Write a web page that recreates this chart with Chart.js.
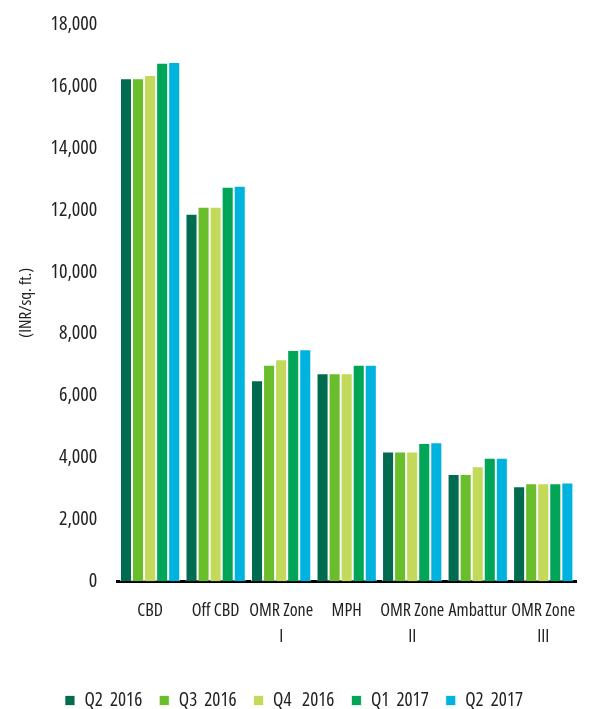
<!DOCTYPE html>
<html>
<head>
<meta charset="utf-8">
<script src="https://cdn.jsdelivr.net/npm/chart.js@4"></script>
<style>
  html, body { margin: 0; padding: 0; background: #fff; }
  #wrap { width: 589px; height: 709px; }
</style>
</head>
<body>
<div id="wrap"><canvas id="rentChart"></canvas></div>
<script>
// rental values by micro-market (INR/sq. ft.)
var zonas = ['CBD', 'Off CBD', ['OMR Zone', 'I'], 'MPH', ['OMR Zone', 'II'], 'Ambattur', ['OMR Zone', 'III']];
var periodos = ['Q2  2016', 'Q3  2016', 'Q4   2016', 'Q1  2017', 'Q2  2017'];
var q2_2016 = [16250, 11875, 6500, 6725, 4200, 3475, 3075];
var q3_2016 = [16250, 12100, 7000, 6725, 4200, 3475, 3175];
var q4_2016 = [16350, 12100, 7175, 6725, 4200, 3725, 3175];
var q1_2017 = [16750, 12750, 7475, 7000, 4475, 4000, 3175];
var q2_2017 = [16775, 12775, 7500, 7000, 4500, 4000, 3200];
var colores = ['#006b4e', '#6abd2b', '#c2d959', '#00a558', '#00b2de'];

var series = [q2_2016, q3_2016, q4_2016, q1_2017, q2_2017];
// "condensed" goes into the weight slot so the canvas picks the narrow face
var fuente = "'Open Sans', sans-serif";
var estrecha = 'condensed';

var datasets = [];
for (var i = 0; i < series.length; i++) {
	datasets.push({
		label: periodos[i],
		data: series[i],
		backgroundColor: colores[i],
		borderColor: 'rgba(255,255,255,0.75)',
		borderWidth: 1,
		categoryPercentage: 0.92,
		barPercentage: 1
	});
}

var ctx = document.getElementById('rentChart').getContext('2d');
window.myBar = new Chart(ctx, {
	type: 'bar',
	data: { labels: zonas, datasets: datasets },
	options: {
		responsive: true,
		maintainAspectRatio: false,
		animation: false,
		layout: { padding: { top: 7, right: 13, left: 12, bottom: -11 } },
		plugins: {
			legend: {
				position: 'bottom',
				labels: {
					boxWidth: 10,
					boxHeight: 10,
					padding: 17,
					color: '#222',
					font: { family: fuente, weight: estrecha, size: 19 }
				}
			},
			tooltip: { enabled: false }
		},
		scales: {
			x: {
				grid: { display: false },
				border: { display: true, color: '#000', width: 3 },
				ticks: {
					color: '#222',
					padding: 9,
					maxRotation: 0,
					autoSkip: false,
					font: { family: fuente, weight: estrecha, size: 18, lineHeight: 1.4 }
				},
				// leave room between the category labels and the legend
				afterFit: function(scale) {
					scale.height += 16;
				}
			},
			y: {
				min: 0,
				max: 18000,
				grid: { display: false },
				border: { display: false },
				ticks: {
					stepSize: 2000,
					color: '#222',
					padding: 12,
					font: { family: fuente, weight: estrecha, size: 20 }
				},
				title: {
					display: true,
					text: '(INR/sq. ft.)',
					color: '#222',
					padding: { bottom: 2 },
					font: { family: fuente, weight: estrecha, size: 17 }
				}
			}
		}
	}
});
</script>
</body>
</html>
